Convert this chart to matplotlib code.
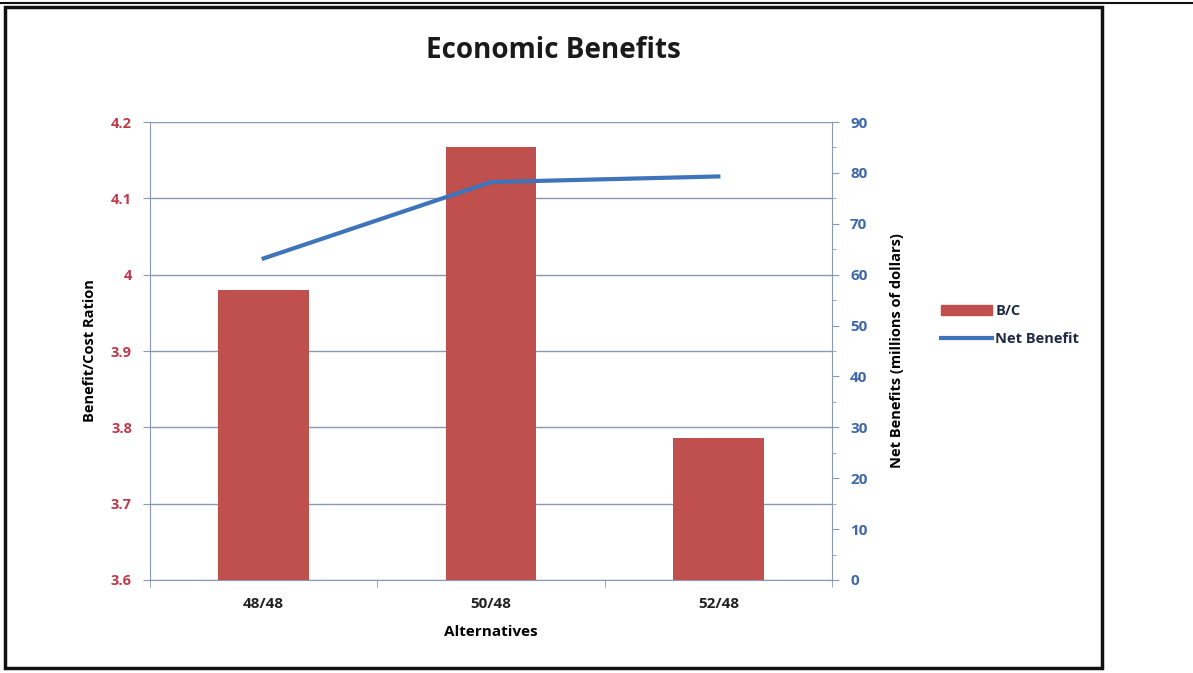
import numpy as np
import matplotlib.pyplot as plt
from matplotlib.patches import Rectangle
from matplotlib.lines import Line2D

plt.rcParams['font.family'] = ['Open Sans', 'DejaVu Sans']

# --- data ---
alternatives = ['48/48', '50/48', '52/48']
bc_ratio = [3.98, 4.167, 3.786]
net_benefit = [63.2, 78.2, 79.3]

left_ticks = [3.6, 3.7, 3.8, 3.9, 4.0, 4.1, 4.2]
left_tick_labels = ['3.6', '3.7', '3.8', '3.9', '4', '4.1', '4.2']
right_ticks = [0, 10, 20, 30, 40, 50, 60, 70, 80, 90]

BAR_COLOR = '#c0504d'
LINE_COLOR = '#3f74bb'
RED_TXT = '#c0394b'
BLUE_TXT = '#3f68a8'
GRID = '#8a97b5'

fig = plt.figure(figsize=(11.93, 6.73), dpi=100)
ax = fig.add_axes([0.1257, 0.1382, 0.5717, 0.6805])
x = np.arange(len(alternatives))

ax.bar(x, [v - 3.6 for v in bc_ratio], bottom=3.6, width=0.4, color=BAR_COLOR, zorder=2)
ax.set_ylim(3.6, 4.2)
ax.set_xlim(-0.5, 2.5)
ax.set_yticks(left_ticks)
ax.set_yticklabels(left_tick_labels, color=RED_TXT, fontsize=10.5, fontweight='bold')
ax.yaxis.grid(True, color=GRID, linewidth=1, zorder=0)
ax.set_axisbelow(True)
ax.set_xticks(x)
ax.set_xticklabels(alternatives, fontsize=11, fontweight='bold', color='#222222')
ax.set_xticks([-0.5, 0.5, 1.5, 2.5], minor=True)
ax.tick_params(axis='x', which='major', length=0, pad=12)
ax.tick_params(axis='x', which='minor', length=5, color=GRID)
ax.tick_params(axis='y', length=5, color=GRID, pad=8)
for s in ['top', 'right']:
    ax.spines[s].set_visible(False)
for s in ['left', 'bottom']:
    ax.spines[s].set_color(GRID)
ax.set_xlabel('Alternatives', fontsize=11, fontweight='bold', labelpad=10)
ax.set_ylabel('Benefit/Cost Ration', fontsize=10.5, fontweight='bold', labelpad=10)

ax2 = ax.twinx()
ax2.plot(x, net_benefit, color=LINE_COLOR, linewidth=3, zorder=3)
ax2.set_ylim(0, 90)
ax2.set_yticks(right_ticks)
ax2.set_yticklabels([str(t) for t in right_ticks], color=BLUE_TXT, fontsize=11, fontweight='bold')
ax2.set_yticks(np.arange(5, 90, 10), minor=True)
ax2.tick_params(axis='y', which='major', length=5, color=GRID, pad=8)
ax2.tick_params(axis='y', which='minor', length=3, color=GRID)
for s in ['top', 'left', 'bottom']:
    ax2.spines[s].set_visible(False)
ax2.spines['right'].set_color(GRID)
ax2.set_ylabel('Net Benefits (millions of dollars)', fontsize=10.5, fontweight='bold', labelpad=16)

fig.text(0.464, 0.925, 'Economic Benefits', ha='center', va='center',
         fontsize=20, fontweight='bold', color='#1a1a1a')

handles = [Rectangle((0, 0), 1, 1, color=BAR_COLOR),
           Line2D([0], [0], color=LINE_COLOR, linewidth=3)]
leg = fig.legend(handles, ['B/C', 'Net Benefit'], loc='center left',
                 bbox_to_anchor=(0.778, 0.517), frameon=False, fontsize=10.5,
                 handlelength=3.5, handletextpad=0.2, labelspacing=1.0)
for t in leg.get_texts():
    t.set_fontweight('bold')
    t.set_color('#1f2a44')

# outer frame
fig.add_artist(Rectangle((0.004, 0.007), 0.92, 0.982, transform=fig.transFigure,
                         fill=False, edgecolor='#111111', linewidth=2.5))
fig.add_artist(Line2D([0, 1], [0.995, 0.995], transform=fig.transFigure,
                      color='#111111', linewidth=1.5))

fig.savefig('out.png', dpi=100)
